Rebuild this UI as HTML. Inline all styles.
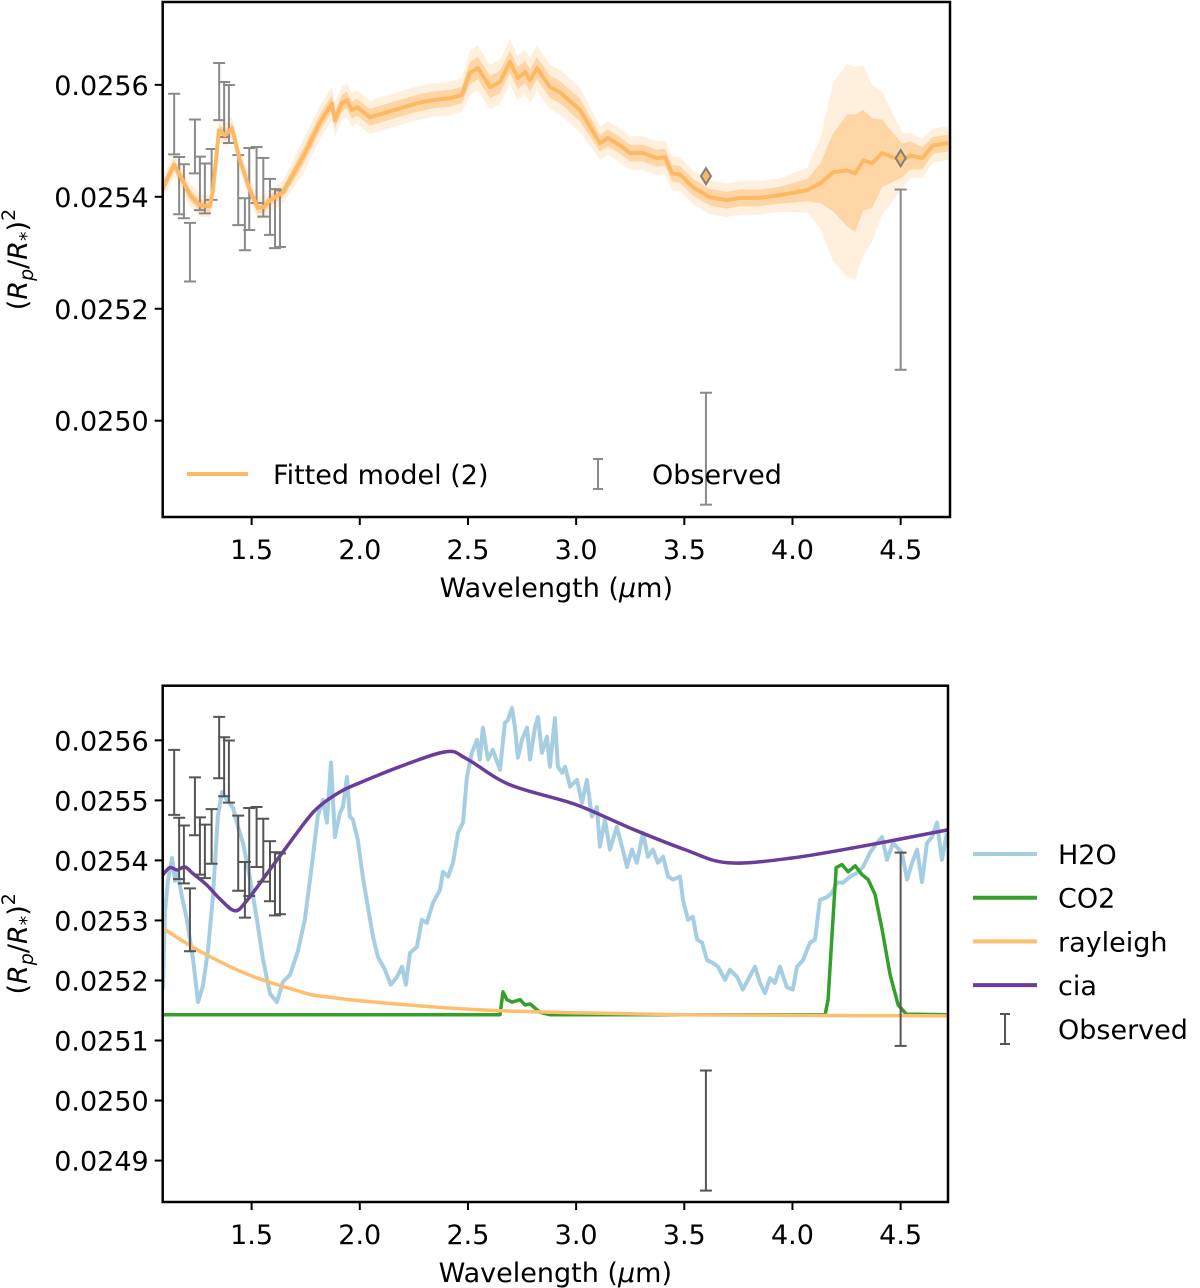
<!DOCTYPE html>
<html><head><meta charset="utf-8"><title>Transmission spectrum</title>
<style>
html,body{margin:0;padding:0;background:#fff;}
svg{display:block;font-family:"DejaVu Sans","Liberation Sans",sans-serif;}
text{fill:#000;}
</style></head>
<body>
<svg id="fig" width="1200" height="1288" viewBox="0 0 1200 1288" xmlns="http://www.w3.org/2000/svg">
<defs>
<clipPath id="clipTop"><rect x="162.7" y="2" width="787.3" height="515"/></clipPath>
<clipPath id="clipBot"><rect x="162.7" y="685.7" width="785.3" height="516.3"/></clipPath>
</defs>
<g id="top"></g>
<g id="bot"></g>
</svg>
<script>
// ---------- data ----------
const xTickVals = [1.5, 2.0, 2.5, 3.0, 3.5, 4.0, 4.5];
const xTickLabels = ["1.5", "2.0", "2.5", "3.0", "3.5", "4.0", "4.5"];
const yTopTickVals = [0.0250, 0.0252, 0.0254, 0.0256];
const yTopTickLabels = ["0.0250", "0.0252", "0.0254", "0.0256"];
const yBotTickVals = [0.0249, 0.0250, 0.0251, 0.0252, 0.0253, 0.0254, 0.0255, 0.0256];
const yBotTickLabels = ["0.0249", "0.0250", "0.0251", "0.0252", "0.0253", "0.0254", "0.0255", "0.0256"];

const obsW = [1.142,1.165,1.187,1.215,1.238,1.261,1.284,1.315,1.350,1.373,1.395,1.438,1.469,1.489,1.523,1.554,1.585,1.608,1.631,3.6,4.5];
const obsV = [0.025530,0.025420,0.025410,0.025301,0.025490,0.025424,0.025415,0.025440,0.025588,0.025556,0.025548,0.025412,0.025351,0.025414,0.025439,0.025417,0.025382,0.025361,0.025361,0.024950,0.025252];
const obsE = [0.0000541,0.0000511,0.0000482,0.0000524,0.0000482,0.0000477,0.0000446,0.0000455,0.0000511,0.0000491,0.0000518,0.0000625,0.0000464,0.0000732,0.0000500,0.0000524,0.0000500,0.0000527,0.0000506,0.000100,0.000161];

const modelW = [1.085,1.141,1.169,1.215,1.261,1.307,1.321,1.349,1.377,1.409,1.446,1.492,1.529,1.557,1.585,1.645,1.737,1.816,1.871,1.885,1.917,1.940,1.963,1.987,2.047,2.107,2.264,2.338,2.417,2.472,2.509,2.546,2.602,2.648,2.694,2.731,2.764,2.787,2.819,2.879,2.925,3.018,3.110,3.147,3.202,3.249,3.309,3.374,3.411,3.443,3.480,3.540,3.619,3.697,3.758,3.850,3.943,4.068,4.128,4.188,4.253,4.290,4.327,4.368,4.415,4.461,4.507,4.544,4.600,4.650,4.720];
const modelV = [0.025412,0.025457,0.025439,0.025403,0.025385,0.025383,0.025412,0.025519,0.025510,0.025523,0.025466,0.025412,0.025380,0.025382,0.025394,0.025408,0.025471,0.025533,0.025567,0.025537,0.025567,0.025573,0.025555,0.025560,0.025542,0.025549,0.025567,0.025573,0.025576,0.025582,0.025621,0.025630,0.025596,0.025605,0.025641,0.025612,0.025623,0.025608,0.025630,0.025596,0.025587,0.025555,0.025496,0.025505,0.025492,0.025478,0.025478,0.025469,0.025471,0.025442,0.025440,0.025417,0.025399,0.025394,0.025398,0.025398,0.025403,0.025412,0.025424,0.025444,0.025447,0.025442,0.025465,0.025460,0.025478,0.025471,0.025465,0.025474,0.025469,0.025492,0.025496];
const modelSig1 = [1,1,1,1,1,1,1,1,1,1,1,1,1,1,1,1,1.5,1.5,1.5,1.5,1.5,1.5,1.5,1.5,1.5,1.5,1.5,1.5,1.5,1.5,2,2,2,2,2,2,2,2,2,2,2,2,1.5,1.5,1.5,1.5,1.5,1.5,1.5,1.5,1.5,1.5,1.5,1.5,1.5,1.5,1.5,2,3.5,7,10,10.5,9,8,6,4.5,3,2.5,2,1.5,1.5];
const modelSig2 = [2,2,2,2,2,2,2,2,2,2,2,2,2,2,2,2,3,3,3,3,3,3,3,3,3,3,3,3,3,3,4,4,4,4,4,4,4,4,4,4,4,4,3,3,3,3,3,3,3,3,3,3,3,3,3,3,3,4,8,16,19,19,17,14,11,8,5,4,3.5,3,3];
const binW = [3.6, 4.5];
const binV = [0.025437, 0.025469];

const h2oW = [1.090,1.099,1.113,1.132,1.146,1.159,1.178,1.201,1.229,1.252,1.275,1.298,1.321,1.344,1.363,1.386,1.414,1.437,1.460,1.492,1.525,1.552,1.585,1.617,1.645,1.677,1.714,1.746,1.778,1.806,1.830,1.848,1.867,1.885,1.908,1.922,1.941,1.954,1.968,1.991,2.014,2.037,2.061,2.084,2.116,2.144,2.172,2.195,2.213,2.232,2.264,2.287,2.310,2.338,2.371,2.384,2.408,2.431,2.454,2.477,2.495,2.518,2.542,2.555,2.569,2.592,2.615,2.648,2.671,2.685,2.703,2.717,2.731,2.750,2.773,2.787,2.810,2.824,2.842,2.865,2.879,2.902,2.916,2.935,2.949,2.972,3.004,3.027,3.050,3.073,3.096,3.110,3.133,3.156,3.188,3.212,3.235,3.258,3.281,3.309,3.332,3.355,3.378,3.402,3.425,3.448,3.480,3.494,3.517,3.540,3.559,3.582,3.605,3.633,3.656,3.688,3.711,3.744,3.771,3.794,3.827,3.850,3.873,3.896,3.919,3.942,3.974,4.002,4.021,4.049,4.081,4.104,4.127,4.160,4.183,4.206,4.234,4.266,4.298,4.326,4.359,4.391,4.414,4.437,4.465,4.506,4.530,4.553,4.576,4.599,4.622,4.645,4.668,4.691,4.714];
const h2oPpm = [25185,25313,25366,25404,25366,25378,25339,25301,25236,25164,25191,25249,25339,25474,25514,25501,25488,25456,25429,25371,25301,25236,25178,25164,25198,25209,25249,25301,25391,25474,25501,25463,25563,25439,25479,25489,25539,25473,25468,25434,25373,25323,25273,25239,25218,25193,25206,25223,25193,25246,25256,25301,25296,25329,25351,25381,25373,25396,25446,25463,25539,25579,25601,25568,25621,25568,25584,25551,25629,25634,25654,25622,25571,25601,25621,25568,25622,25639,25579,25606,25556,25637,25556,25546,25556,25523,25534,25496,25534,25473,25489,25423,25468,25418,25456,25423,25389,25418,25396,25446,25406,25418,25396,25406,25373,25368,25373,25334,25301,25306,25268,25263,25234,25229,25223,25201,25218,25206,25185,25201,25223,25196,25179,25204,25196,25223,25189,25185,25223,25234,25263,25268,25334,25339,25346,25363,25363,25373,25379,25389,25413,25429,25439,25401,25429,25413,25368,25396,25418,25364,25429,25439,25463,25401,25446];

const co2W = [1.085,2.648,2.662,2.680,2.704,2.741,2.764,2.787,2.833,2.879,4.151,4.165,4.184,4.202,4.229,4.257,4.290,4.322,4.350,4.382,4.415,4.452,4.489,4.526,4.719];
const co2V = [0.025143,0.025143,0.025181,0.025168,0.025164,0.025168,0.025159,0.025161,0.025147,0.025143,0.025143,0.025168,0.025284,0.025388,0.025393,0.025381,0.025391,0.025376,0.025368,0.025343,0.025284,0.025209,0.025159,0.025144,0.025143];

const rayW = [1.085,1.26,1.49,1.73,1.82,2.10,2.56,3.02,3.50,4.00,4.72];
const rayV = [0.025288,0.025249,0.025209,0.025181,0.025174,0.025163,0.025151,0.025146,0.025143,0.025142,0.025141];

const ciaW = [1.085,1.122,1.155,1.192,1.229,1.293,1.353,1.423,1.478,1.571,1.663,1.756,1.816,1.908,1.991,2.185,2.398,2.495,2.694,2.999,3.249,3.503,3.702,3.998,4.358,4.719];
const ciaV = [0.025374,0.025388,0.025384,0.025389,0.025378,0.025359,0.025336,0.025316,0.025333,0.025378,0.025423,0.025468,0.025491,0.025514,0.025528,0.025556,0.025581,0.025569,0.025526,0.025493,0.025454,0.025418,0.025396,0.025404,0.025426,0.025451];

// ---------- helpers ----------
const NS = "http://www.w3.org/2000/svg";
function mk(tag, attrs, parent) {
  const el = document.createElementNS(NS, tag);
  for (const k in attrs) el.setAttribute(k, attrs[k]);
  parent.appendChild(el);
  return el;
}
function linearScale(d0, d1, r0, r1) { return v => r0 + (v - d0) / (d1 - d0) * (r1 - r0); }

function makeAxes(g, L, T, R, B, xmin, xmax, ymin, ymax, yTV, yTL, clipId) {
  const x = linearScale(xmin, xmax, L, R);
  const y = linearScale(ymax, ymin, T, B);
  const plot = mk("g", {"clip-path": "url(#" + clipId + ")"}, g);
  
  
  xTickVals.forEach((v, i) => {
    const tx = x(v);
    const t = mk("line", {x1: tx, x2: tx, y1: B, y2: B + 8, stroke: "#000", "stroke-width": 2}, g);
    
    
    const lb = mk("text", {x: tx, y: B + 42, "text-anchor": "middle", "font-size": 27}, g);
    lb.textContent = xTickLabels[i];
    
    
  });
  yTV.forEach((v, i) => {
    const ty = y(v);
    const t = mk("line", {x1: L - 8, x2: L, y1: ty, y2: ty, stroke: "#000", "stroke-width": 2}, g);
    
    
    const lb = mk("text", {x: L - 14, y: ty + 10, "text-anchor": "end", "font-size": 27}, g);
    lb.textContent = yTL[i];
    
    
  });
  const xl = mk("text", {x: (L + R) / 2, y: B + 80, "text-anchor": "middle", "font-size": 27}, g);
  xl.innerHTML = 'Wavelength (<tspan font-style="italic">μ</tspan>m)';
  
  
  const cy = (T + B) / 2;
  const yl = mk("text", {x: 0, y: 0, "text-anchor": "middle", "font-size": 27, transform: "translate(27," + cy + ") rotate(-90)"}, g);
  yl.innerHTML = '(<tspan font-style="italic">R</tspan><tspan font-style="italic" font-size="19" dy="6">p</tspan><tspan dy="-6">/</tspan><tspan font-style="italic">R</tspan><tspan font-size="19" dy="6">*</tspan><tspan dy="-6">)</tspan><tspan font-size="19" dy="-12">2</tspan>';
  
  
  return {x, y, plot, frame: () => {
    const f = mk("rect", {x: L, y: T, width: R - L, height: B - T, fill: "none", stroke: "#000", "stroke-width": 2.5}, g);
    
    
  }};
}
function pathFrom(ws, vs, ax, scale) {
  scale = scale || 1;
  return ws.map((w, i) => (i ? "L" : "M") + ax.x(w).toFixed(1) + "," + ax.y(vs[i] * scale).toFixed(1)).join("");
}
function smoothPath(ws, vs, ax) {
  const P = ws.map((w, i) => [ax.x(w), ax.y(vs[i])]);
  let d = "M" + P[0][0].toFixed(1) + "," + P[0][1].toFixed(1);
  for (let i = 0; i < P.length - 1; i++) {
    const p0 = P[Math.max(0, i - 1)], p1 = P[i], p2 = P[i + 1], p3 = P[Math.min(P.length - 1, i + 2)];
    const c1 = [p1[0] + (p2[0] - p0[0]) / 6, p1[1] + (p2[1] - p0[1]) / 6];
    const c2 = [p2[0] - (p3[0] - p1[0]) / 6, p2[1] - (p3[1] - p1[1]) / 6];
    d += "C" + c1[0].toFixed(1) + "," + c1[1].toFixed(1) + " " + c2[0].toFixed(1) + "," + c2[1].toFixed(1) + " " + p2[0].toFixed(1) + "," + p2[1].toFixed(1);
  }
  return d;
}
function bandPath(ws, vs, sig, ax) {
  let d = ws.map((w, i) => (i ? "L" : "M") + ax.x(w).toFixed(1) + "," + ax.y(vs[i] + sig[i] * 1e-5).toFixed(1)).join("");
  for (let i = ws.length - 1; i >= 0; i--) d += "L" + ax.x(ws[i]).toFixed(1) + "," + ax.y(vs[i] - sig[i] * 1e-5).toFixed(1);
  return d + "Z";
}
function errorBars(ax, parent, color) {
  obsW.forEach((w, i) => {
    const gx = ax.x(w), y1 = ax.y(obsV[i] + obsE[i]), y2 = ax.y(obsV[i] - obsE[i]);
    const g = mk("g", {stroke: color, "stroke-width": 2, fill: "none"}, parent);
    
    
    mk("line", {x1: gx, x2: gx, y1: y1, y2: y2}, g);
    mk("line", {x1: gx - 6, x2: gx + 6, y1: y1, y2: y1}, g);
    mk("line", {x1: gx - 6, x2: gx + 6, y1: y2, y2: y2}, g);
  });
}

// ---------- top panel ----------
const gt = document.getElementById("top");
const axT = makeAxes(gt, 162.7, 2, 950, 517, 1.089, 4.728, 0.024828, 0.025748, yTopTickVals, yTopTickLabels, "clipTop");
const b2 = mk("path", {d: bandPath(modelW, modelV, modelSig2, axT), fill: "#fdb863", "fill-opacity": 0.22, stroke: "none"}, axT.plot);


const b1 = mk("path", {d: bandPath(modelW, modelV, modelSig1, axT), fill: "#fdb863", "fill-opacity": 0.45, stroke: "none"}, axT.plot);


errorBars(axT, axT.plot, "#8a8a8a");
const ml = mk("path", {d: pathFrom(modelW, modelV, axT), fill: "none", stroke: "#fdb863", "stroke-width": 4, "stroke-linejoin": "round"}, axT.plot);


binW.forEach((w, i) => {
  const cx = axT.x(w), cy = axT.y(binV[i]);
  const dm = mk("path", {d: `M${cx},${cy - 8}L${cx + 5},${cy}L${cx},${cy + 8}L${cx - 5},${cy}Z`, fill: "#fdb863", stroke: "#808080", "stroke-width": 2}, axT.plot);
  
  
});
axT.frame();
const lgT = mk("g", {}, gt);


const l1 = mk("line", {x1: 187, x2: 248, y1: 474, y2: 474, stroke: "#fdb863", "stroke-width": 4}, lgT);


const t1 = mk("text", {x: 273, y: 484, "font-size": 27}, lgT);
t1.textContent = "Fitted model (2)";


const eg = mk("g", {stroke: "#8a8a8a", "stroke-width": 2}, lgT);


mk("line", {x1: 598, x2: 598, y1: 459, y2: 489}, eg);
mk("line", {x1: 593, x2: 603, y1: 459, y2: 459}, eg);
mk("line", {x1: 593, x2: 603, y1: 489, y2: 489}, eg);
const t2 = mk("text", {x: 652, y: 484, "font-size": 27}, lgT);
t2.textContent = "Observed";



// ---------- bottom panel ----------
const gb = document.getElementById("bot");
const axB = makeAxes(gb, 162.7, 685.7, 948, 1202, 1.089, 4.719, 0.024831, 0.025691, yBotTickVals, yBotTickLabels, "clipBot");
const h2o = mk("path", {d: pathFrom(h2oW, h2oPpm, axB, 1e-6), fill: "none", stroke: "#a6cee3", "stroke-width": 4, "stroke-linejoin": "round"}, axB.plot);


const co2 = mk("path", {d: pathFrom(co2W, co2V, axB), fill: "none", stroke: "#33a02c", "stroke-width": 3.5, "stroke-linejoin": "round"}, axB.plot);


const ray = mk("path", {d: smoothPath(rayW, rayV, axB), fill: "none", stroke: "#fdbf6f", "stroke-width": 3.5}, axB.plot);


const cia = mk("path", {d: smoothPath(ciaW, ciaV, axB), fill: "none", stroke: "#6a3d9a", "stroke-width": 3.5, "stroke-linejoin": "round"}, axB.plot);


errorBars(axB, axB.plot, "#555555");
axB.frame();
const lgB = mk("g", {}, gb);


const legNames = ["H2O", "CO2", "rayleigh", "cia"];
const legColors = ["#a6cee3", "#33a02c", "#fdbf6f", "#6a3d9a"];
legNames.forEach((n, i) => {
  const yy = 854 + i * 43.7;
  const s = mk("line", {x1: 973, x2: 1037, y1: yy, y2: yy, stroke: legColors[i], "stroke-width": 4}, lgB);
  
  
  const t = mk("text", {x: 1058, y: yy + 10, "font-size": 27}, lgB);
  t.textContent = n;
  
  
});
const eb = mk("g", {stroke: "#555555", "stroke-width": 2}, lgB);


mk("line", {x1: 1005, x2: 1005, y1: 1014, y2: 1044}, eb);
mk("line", {x1: 1000, x2: 1010, y1: 1014, y2: 1014}, eb);
mk("line", {x1: 1000, x2: 1010, y1: 1044, y2: 1044}, eb);
const to = mk("text", {x: 1058, y: 1039, "font-size": 27}, lgB);
to.textContent = "Observed";


</script>
</body></html>
